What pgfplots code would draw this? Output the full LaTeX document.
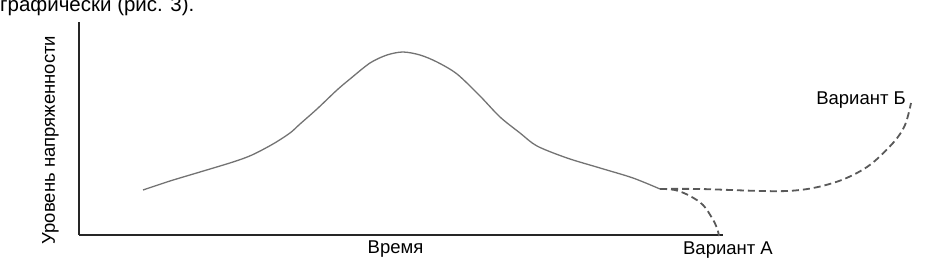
\documentclass[border=0pt]{standalone}
\usepackage{fontspec}
\setmainfont{Liberation Sans}
\usepackage{pgfplots}
\pgfplotsset{compat=1.18}
\newcommand{\lf}{\fontsize{18.5}{22}\selectfont}
\newcommand{\tf}{\fontsize{20.5}{24}\selectfont}
\begin{document}
\begin{tikzpicture}
\useasboundingbox (0,0) rectangle (943pt,270pt);
\begin{axis}[
  x=1pt, y=1pt,
  xmin=79, xmax=723, ymin=35, ymax=248,
  at={(79pt,35pt)}, anchor=south west,
  axis lines=left,
  axis line style={-, line width=1.4pt, black!85},
  xtick=\empty, ytick=\empty,
  clip=false,
]
% main curve (y = 270 - pixel row)
\addplot[smooth, tension=0.5, line width=1.3pt, black!55] coordinates {
(143,80) (170,89) (200,98) (233,108) (252,115) (273,126) (290,137) (300,146)
(317,161) (337,180) (350,191) (370,207) (387,215) (403,218) (420,215)
(437,208) (457,196) (480,174) (500,153) (520,137) (537,124) (567,112)
(600,102) (633,92) (660,81)
};
% Variant A
\addplot[smooth, tension=0.6, line width=1.8pt, black!65, dash pattern=on 7pt off 4pt] coordinates {
(660,81) (675,80) (690,74) (703,65) (712,52) (717,42) (719,34)
};
% Variant B
\addplot[smooth, tension=0.55, line width=1.8pt, black!65, dash pattern=on 7pt off 4pt] coordinates {
(660,81) (700,81) (787,79) (833,87) (867,103) (893,127) (905,145) (911,167)
};
\node[font=\lf, anchor=base, inner sep=0pt] at (axis cs:395.5,16) {Время};
\node[font=\lf, anchor=base, inner sep=0pt] at (axis cs:728,15) {Вариант А};
\node[font=\lf, anchor=base east, inner sep=0pt] at (axis cs:906,165) {Вариант Б};
\node[font=\lf, rotate=90, anchor=base, inner sep=0pt] at (axis cs:55,130) {Уровень напряженности};
\node[font=\tf, anchor=base west, inner sep=0pt] at (axis cs:0,258) {графически (рис. 3).};
\end{axis}
\end{tikzpicture}
\end{document}
